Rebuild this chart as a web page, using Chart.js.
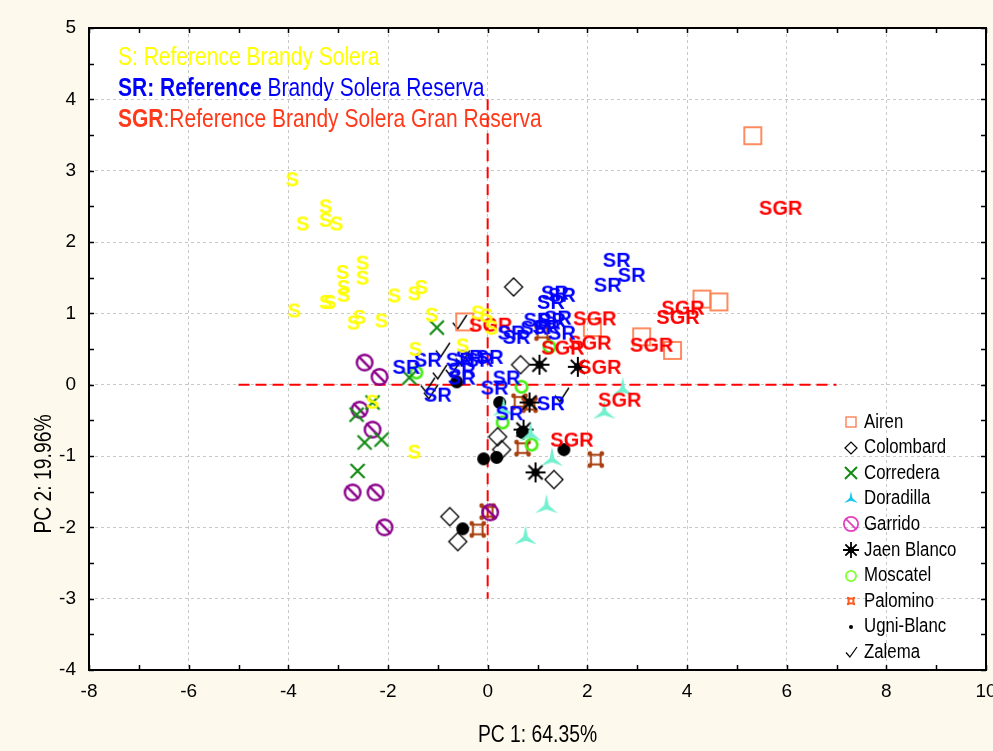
<!DOCTYPE html>
<html>
<head>
<meta charset="utf-8">
<script src="https://cdn.jsdelivr.net/npm/chart.js@4.4.0/dist/chart.umd.min.js"></script>
<style>
  html, body { margin: 0; padding: 0; background: #fdf9ed; }
  canvas { display: block; }
</style>
</head>
<body>
<canvas id="pcaChart" width="993" height="751"></canvas>
<script>
// --- data ---
const xTickLabels = [-8, -6, -4, -2, 0, 2, 4, 6, 8, 10];
const yTickLabels = [-4, -3, -2, -1, 0, 1, 2, 3, 4, 5];

const refS = [[-3.92,2.88],[-3.25,2.50],[-3.71,2.26],[-3.25,2.31],[-3.03,2.26],[-2.51,1.71],[-2.91,1.58],
  [-2.51,1.50],[-2.89,1.37],[-2.89,1.26],[-1.87,1.25],[-1.47,1.28],[-1.33,1.37],[-3.25,1.16],[-3.17,1.16],
  [-3.88,1.04],[-2.69,0.87],[-2.57,0.95],[-2.13,0.90],[-1.12,0.98],[-0.20,1.01],[-0.02,0.97],[0.08,0.80],
  [-1.45,0.50],[-0.50,0.55],[-2.31,-0.24],[-1.47,-0.94]];
const refSR = [[2.59,1.75],[2.89,1.54],[2.41,1.40],[1.35,1.29],[1.49,1.26],[1.27,1.16],[1.00,0.91],[1.29,0.91],
  [1.41,0.94],[0.94,0.80],[1.18,0.81],[1.49,0.73],[0.48,0.73],[0.58,0.67],[0.04,0.39],[-0.16,0.35],[-0.36,0.39],
  [-0.56,0.35],[-0.52,0.21],[-0.52,0.10],[-1.20,0.35],[-1.63,0.25],[-1.00,-0.14],[0.14,-0.04],[0.38,0.10],
  [1.27,-0.26],[0.44,-0.40]];
const refSGR = [[5.88,2.48],[2.15,0.93],[3.92,1.08],[3.82,0.95],[2.05,0.59],[1.51,0.52],[3.29,0.56],[2.25,0.25],
  [2.65,-0.21],[1.69,-0.77],[0.06,0.84]];

const airen = [[5.32,3.49],[4.30,1.20],[4.64,1.16],[3.09,0.67],[3.71,0.48],[2.10,0.80],[-0.46,0.88]];
const colombard = [[0.52,1.37],[0.66,0.28],[0.20,-0.73],[0.28,-0.91],[1.33,-1.33],[-0.76,-1.85],[-0.60,-2.20]];
const corredera = [[-1.02,0.80],[-1.57,0.10],[-2.63,-0.42],[-2.31,-0.25],[-2.47,-0.81],[-2.13,-0.77],[-2.61,-1.21]];
const doradilla = [[2.71,-0.07],[2.34,-0.39],[1.29,-1.05],[1.18,-1.71],[0.76,-2.15],[0.86,-0.70],[0.32,-0.35]];
const garrido = [[-2.47,0.31],[-2.17,0.11],[-2.57,-0.35],[-2.31,-0.63],[-2.71,-1.51],[-2.25,-1.51],[-2.07,-2.00],[0.05,-1.79]];
const jaenBlanco = [[1.04,0.28],[1.81,0.25],[0.84,-0.25],[0.72,-0.63],[0.96,-1.23]];
const moscatel = [[1.24,0.53],[0.68,-0.03],[-1.43,0.17],[0.30,-0.53],[0.88,-0.84]];
const palomino = [[0.64,-0.24],[0.84,-0.28],[0.70,-0.89],[2.17,-1.05],[-0.20,-2.03],[0.00,-1.78],[1.10,0.73]];
const ugniBlanc = [[0.24,-0.25],[0.70,-0.67],[1.53,-0.91],[-0.08,-1.04],[0.18,-1.02],[-0.50,-2.02],[-0.62,0.04]];
const zalema = [[-0.56,0.88],[-0.90,0.49],[-1.20,0.00],[-1.14,-0.10],[-0.96,0.18],[-0.50,0.38],[1.49,-0.14],[-0.70,0.22]];

const refLineH = [[-5,0],[7,0]];
const refLineV = [[0,4],[0,-3]];

const legendNames = ['Airen','Colombard','Corredera','Doradilla','Garrido','Jaen Blanco','Moscatel','Palomino','Ugni-Blanc','Zalema'];
const axisTitleX = 'PC 1: 64.35%';
const axisTitleY = 'PC 2: 19.96%';
const noteLines = [
  ['S', ': Reference Brandy Solera', '#ffff00', false],
  ['SR: Reference', ' Brandy Solera Reserva', '#0000ff', true],
  ['SGR', ':Reference Brandy Solera Gran Reserva', '#ff3a1a', true]
];

const SANS = '"Liberation Sans", Arial, sans-serif';
const SQUEEZE = 0.84;   // no narrow face installed, so condense by hand

const toPts = arr => arr.map(([x, y]) => ({ x, y }));

// --- marker glyphs ---
function makeCanvas(w, h, draw) {
    const c = document.createElement('canvas');
    c.width = w; c.height = h;
    draw(c.getContext('2d'), w, h);
    return c;
}
function textMark(txt, color) {
    const font = 'bold 20px ' + SANS;
    const m = document.createElement('canvas').getContext('2d');
    m.font = font;
    const w = Math.ceil(m.measureText(txt).width) + 2;
    return makeCanvas(w, 24, (ctx, w, h) => {
        ctx.font = font; ctx.fillStyle = color;
        ctx.textAlign = 'center'; ctx.textBaseline = 'middle';
        ctx.fillText(txt, w / 2, h / 2 + 1);
    });
}
function squareMark(side, color, lw) {
    const s = side + 4;
    return makeCanvas(s, s, (ctx) => {
        ctx.strokeStyle = color; ctx.lineWidth = lw;
        ctx.strokeRect(2, 2, side, side);
    });
}
function diamondMark(r, color, lw) {
    const s = 2 * r + 4, c = s / 2;
    return makeCanvas(s, s, (ctx) => {
        ctx.strokeStyle = color; ctx.lineWidth = lw;
        ctx.beginPath();
        ctx.moveTo(c - r, c); ctx.lineTo(c, c - r); ctx.lineTo(c + r, c); ctx.lineTo(c, c + r);
        ctx.closePath(); ctx.stroke();
    });
}
function xMark(r, color, lw) {
    const s = 2 * r + 4, c = s / 2;
    return makeCanvas(s, s, (ctx) => {
        ctx.strokeStyle = color; ctx.lineWidth = lw;
        ctx.beginPath();
        ctx.moveTo(c - r, c - r); ctx.lineTo(c + r, c + r);
        ctx.moveTo(c + r, c - r); ctx.lineTo(c - r, c + r);
        ctx.stroke();
    });
}
function triMark(r, color, bwFrac) {
    const s = 2 * r + 4, c = s / 2;
    return makeCanvas(s, s, (ctx) => {
        ctx.fillStyle = color;
        [-90, 30, 150].forEach(deg => {
            const a = deg * Math.PI / 180, p = a + Math.PI / 2;
            const bw = r * bwFrac;
            ctx.beginPath();
            ctx.moveTo(c + Math.cos(p) * bw, c + Math.sin(p) * bw);
            ctx.lineTo(c + Math.cos(a) * r, c + Math.sin(a) * r);
            ctx.lineTo(c - Math.cos(p) * bw, c - Math.sin(p) * bw);
            ctx.closePath(); ctx.fill();
        });
    });
}
function slashMark(r, color, lw) {
    const s = 2 * r + 4, c = s / 2, d = r * 0.7;
    return makeCanvas(s, s, (ctx) => {
        ctx.strokeStyle = color; ctx.lineWidth = lw;
        ctx.beginPath(); ctx.arc(c, c, r - lw / 2, 0, Math.PI * 2); ctx.stroke();
        ctx.beginPath(); ctx.moveTo(c - d, c - d); ctx.lineTo(c + d, c + d); ctx.stroke();
    });
}
function starMark(r, lw) {
    const s = 2 * r + 4, c = s / 2;
    return makeCanvas(s, s, (ctx) => {
        ctx.strokeStyle = '#000'; ctx.fillStyle = '#000'; ctx.lineWidth = lw;
        ctx.beginPath();
        for (let k = 0; k < 8; k++) {
            const a = k * Math.PI / 4;
            ctx.moveTo(c, c); ctx.lineTo(c + Math.cos(a) * r, c + Math.sin(a) * r);
        }
        ctx.stroke();
        ctx.beginPath(); ctx.arc(c, c, r * 0.4, 0, Math.PI * 2); ctx.fill();
    });
}
function ringMark(r, color, lw) {
    const s = 2 * r + 4, c = s / 2;
    return makeCanvas(s, s, (ctx) => {
        ctx.strokeStyle = color; ctx.lineWidth = lw;
        ctx.beginPath(); ctx.arc(c, c, r - lw / 2, 0, Math.PI * 2); ctx.stroke();
    });
}
function dotMark(r, color) {
    const s = 2 * r + 2, c = s / 2;
    return makeCanvas(s, s, (ctx) => {
        ctx.fillStyle = color;
        ctx.beginPath(); ctx.arc(c, c, r, 0, Math.PI * 2); ctx.fill();
    });
}
function palMark(half, color) {
    const s = 2 * half + 6, c = s / 2;
    return makeCanvas(s, s, (ctx) => {
        ctx.strokeStyle = color; ctx.fillStyle = color; ctx.lineWidth = 2;
        ctx.strokeRect(c - half * 0.6, c - half * 0.6, half * 1.2, half * 1.2);
        [[-1,-1],[1,-1],[1,1],[-1,1]].forEach(([dx, dy]) => {
            ctx.beginPath(); ctx.arc(c + dx * half * 0.75, c + dy * half * 0.75, half * 0.3, 0, Math.PI * 2); ctx.fill();
        });
    });
}
function checkMark(w, h, color, lw) {
    return makeCanvas(w + 4, h + 4, (ctx) => {
        ctx.strokeStyle = color; ctx.lineWidth = lw;
        ctx.beginPath();
        ctx.moveTo(2, 2 + h * 0.55); ctx.lineTo(2 + w * 0.35, 2 + h); ctx.lineTo(2 + w, 2);
        ctx.stroke();
    });
}

const styleS = textMark('S', '#ffff00');
const styleSR = textMark('SR', '#0000ff');
const styleSGR = textMark('SGR', '#ff0000');

const plotMarks = [
    squareMark(17, '#ff7f50', 1.8),
    diamondMark(9, '#000', 1.3),
    xMark(7, '#138a13', 2.2),
    triMark(13, '#74f0cf', 0.2),
    slashMark(9, '#8b008b', 2.4),
    starMark(10, 2),
    ringMark(7, '#44ee10', 2.6),
    palMark(8, '#a8400f'),
    dotMark(6.5, '#000'),
    checkMark(14, 14, '#000', 1.4)
];
const legendMarks = [
    squareMark(10, '#ff6a3a', 1.2),
    diamondMark(6, '#000', 1.2),
    xMark(6, '#138a13', 2),
    triMark(8, '#19c8ee', 0.2),
    slashMark(8, '#e040c0', 1.8),
    starMark(8, 1.8),
    ringMark(6, '#80ff30', 1.8),
    palMark(4, '#ff5a20'),
    dotMark(2, '#000'),
    checkMark(11, 10, '#000', 1.2)
];
const groupData = [airen, colombard, corredera, doradilla, garrido, jaenBlanco, moscatel, palomino, ugniBlanc, zalema];

const markerSets = [
    { label: 'S', data: toPts(refS), pointStyle: styleS },
    { label: 'SR', data: toPts(refSR), pointStyle: styleSR },
    { label: 'SGR', data: toPts(refSGR), pointStyle: styleSGR }
].concat(groupData.map((d, i) => ({ label: legendNames[i], data: toPts(d), pointStyle: plotMarks[i] })));

const datasets = markerSets.map(s => ({
    label: s.label,
    data: s.data,
    pointStyle: s.pointStyle,
    pointRadius: 5,
    pointHoverRadius: 5,
    showLine: false
}));
[refLineH, refLineV].forEach((ln, i) => datasets.push({
    label: 'ref' + i,
    data: toPts(ln),
    showLine: true,
    borderColor: '#ff0000',
    borderWidth: 2,
    borderDash: [11, 6],
    pointRadius: 0,
    fill: false
}));

// condensed text, left or centre aligned, returns drawn width
function narrowText(ctx, txt, x, y, align) {
    const w = ctx.measureText(txt).width * SQUEEZE;
    ctx.save();
    ctx.translate(align === 'center' ? x - w / 2 : x, y);
    ctx.scale(SQUEEZE, 1);
    ctx.textAlign = 'left';
    ctx.fillText(txt, 0, 0);
    ctx.restore();
    return w;
}

// --- frame, inner ticks, notes, legend, axis titles ---
const decorPlugin = {
    id: 'decor',
    beforeDraw(chart) {
        const { ctx, chartArea: a } = chart;
        ctx.save();
        ctx.fillStyle = '#fdf9ed';
        ctx.fillRect(0, 0, chart.width, chart.height);
        ctx.fillStyle = '#ffffff';
        ctx.fillRect(a.left, a.top, a.right - a.left, a.bottom - a.top);
        ctx.restore();
    },
    afterDatasetsDraw(chart) {
        const { ctx, chartArea: a, scales: { x, y } } = chart;
        ctx.save();
        // inner tick marks
        ctx.strokeStyle = '#000'; ctx.lineWidth = 1.5;
        ctx.beginPath();
        for (let v = xTickLabels[0]; v <= xTickLabels[xTickLabels.length - 1]; v += 1) {
            const px = Math.round(x.getPixelForValue(v)) + 0.5;
            ctx.moveTo(px, a.bottom); ctx.lineTo(px, a.bottom - 5);
            ctx.moveTo(px, a.top); ctx.lineTo(px, a.top + 5);
        }
        for (let v = yTickLabels[0]; v <= yTickLabels[yTickLabels.length - 1]; v += 0.5) {
            const py = Math.round(y.getPixelForValue(v)) + 0.5;
            ctx.moveTo(a.left, py); ctx.lineTo(a.left + 5, py);
            ctx.moveTo(a.right, py); ctx.lineTo(a.right - 5, py);
        }
        ctx.stroke();
        // frame
        ctx.lineWidth = 2;
        ctx.strokeRect(a.left, a.top, a.right - a.left, a.bottom - a.top);

        // notes, top left
        ctx.textBaseline = 'middle';
        noteLines.forEach(([head, tail, color, bold], i) => {
            const ty = 58 + i * 31;
            ctx.fillStyle = color;
            ctx.font = (bold ? 'bold ' : '') + '25px ' + SANS;
            const w = narrowText(ctx, head, 118, ty);
            ctx.font = '25px ' + SANS;
            narrowText(ctx, tail, 118 + w, ty);
        });

        // legend
        ctx.font = '20px ' + SANS;
        ctx.fillStyle = '#000';
        legendNames.forEach((name, i) => {
            const ly = 422 + i * 25.6;
            const m = legendMarks[i];
            ctx.drawImage(m, Math.round(851 - m.width / 2), Math.round(ly - m.height / 2));
            narrowText(ctx, name, 864, ly);
        });

        // axis titles
        ctx.font = '23px ' + SANS;
        narrowText(ctx, axisTitleX, (a.left + a.right) / 2, 736, 'center');
        ctx.translate(45, 474);
        ctx.rotate(-Math.PI / 2);
        narrowText(ctx, axisTitleY, 0, 0, 'center');
        ctx.restore();
    }
};

const canvas = document.getElementById('pcaChart');
new Chart(canvas, {
    type: 'scatter',
    data: { datasets: datasets },
    options: {
        responsive: false,
        animation: false,
        events: [],
        layout: { padding: { left: 0, right: 7, top: 28, bottom: 0 } },
        plugins: { legend: { display: false }, tooltip: { enabled: false } },
        scales: {
            x: {
                type: 'linear',
                min: xTickLabels[0],
                max: xTickLabels[xTickLabels.length - 1],
                afterBuildTicks: s => { s.ticks = xTickLabels.map(v => ({ value: v })); },
                afterFit: s => { s.height = 81; s.paddingLeft = 0; s.paddingRight = 0; },
                ticks: { color: '#000', font: { family: SANS, size: 19 }, padding: 10, maxRotation: 0, autoSkip: false },
                grid: { color: '#c8c8c8', lineWidth: 1, drawTicks: false },
                border: { display: false, dash: [3, 3] }
            },
            y: {
                type: 'linear',
                min: yTickLabels[0],
                max: yTickLabels[yTickLabels.length - 1],
                afterBuildTicks: s => { s.ticks = yTickLabels.map(v => ({ value: v })); },
                afterFit: s => { s.width = 89; s.paddingTop = 0; s.paddingBottom = 0; },
                ticks: { color: '#000', font: { family: SANS, size: 19 }, padding: 13, autoSkip: false },
                grid: { color: '#c8c8c8', lineWidth: 1, drawTicks: false },
                border: { display: false, dash: [3, 3] }
            }
        }
    },
    plugins: [decorPlugin]
});
</script>
</body>
</html>
